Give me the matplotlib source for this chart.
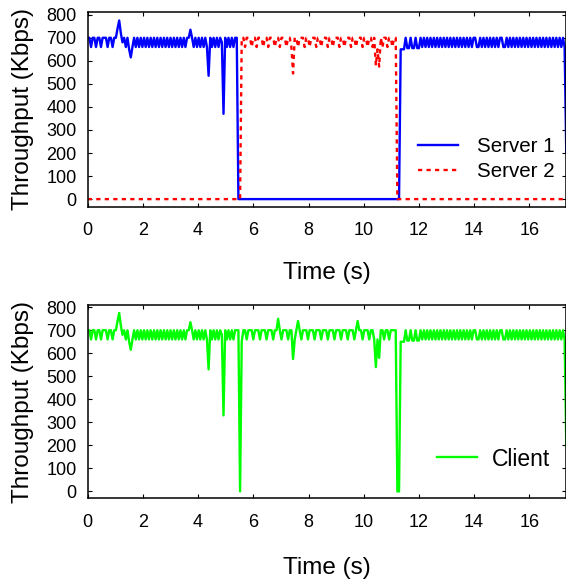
import numpy as np
import matplotlib
matplotlib.use("Agg")
import matplotlib.pyplot as plt

# sampled throughput (Kbps), one sample every 0.06 s
dt = 0.06

server1 = [
    700, 700, 660, 700, 700, 660, 700, 700, 660, 700,
    700, 700, 660, 700, 700, 660, 700, 700, 740, 775,
    720, 680, 700, 660, 700, 650, 615, 660, 700, 660,
    700, 660, 700, 660, 700, 660, 700, 660, 700, 660,
    700, 660, 700, 660, 700, 660, 700, 660, 700, 660,
    700, 660, 700, 660, 700, 660, 700, 660, 700, 660,
    700, 700, 735, 700, 660, 700, 660, 700, 660, 700,
    660, 700, 660, 535, 700, 660, 700, 660, 700, 660,
    700, 680, 370, 700, 660, 700, 660, 700, 660, 700,
    700, 0, 0, 0, 0, 0, 0, 0, 0, 0,
    0, 0, 0, 0, 0, 0, 0, 0, 0, 0,
    0, 0, 0, 0, 0, 0, 0, 0, 0, 0,
    0, 0, 0, 0, 0, 0, 0, 0, 0, 0,
    0, 0, 0, 0, 0, 0, 0, 0, 0, 0,
    0, 0, 0, 0, 0, 0, 0, 0, 0, 0,
    0, 0, 0, 0, 0, 0, 0, 0, 0, 0,
    0, 0, 0, 0, 0, 0, 0, 0, 0, 0,
    0, 0, 0, 0, 0, 0, 0, 0, 0, 0,
    0, 0, 0, 0, 0, 0, 0, 0, 0, 650,
    650, 650, 700, 655, 655, 700, 655, 655, 700, 655,
    655, 700, 660, 700, 660, 700, 660, 700, 660, 700,
    660, 700, 660, 700, 660, 700, 660, 700, 660, 700,
    660, 700, 660, 700, 660, 700, 660, 700, 660, 700,
    660, 700, 660, 700, 700, 660, 660, 700, 660, 700,
    660, 700, 660, 700, 660, 700, 660, 700, 660, 700,
    700, 660, 660, 700, 660, 700, 660, 700, 660, 700,
    660, 700, 660, 700, 660, 700, 660, 700, 660, 700,
    660, 700, 660, 700, 660, 700, 660, 700, 660, 700,
    660, 700, 660, 700, 660, 700, 660, 700, 660, 200,
]

server2 = [
    0, 0, 0, 0, 0, 0, 0, 0, 0, 0,
    0, 0, 0, 0, 0, 0, 0, 0, 0, 0,
    0, 0, 0, 0, 0, 0, 0, 0, 0, 0,
    0, 0, 0, 0, 0, 0, 0, 0, 0, 0,
    0, 0, 0, 0, 0, 0, 0, 0, 0, 0,
    0, 0, 0, 0, 0, 0, 0, 0, 0, 0,
    0, 0, 0, 0, 0, 0, 0, 0, 0, 0,
    0, 0, 0, 0, 0, 0, 0, 0, 0, 0,
    0, 0, 0, 0, 0, 0, 0, 0, 0, 0,
    0, 0, 0, 700, 700, 660, 700, 700, 700, 660,
    700, 700, 660, 700, 700, 700, 660, 700, 700, 660,
    700, 700, 700, 660, 700, 700, 660, 700, 700, 700,
    660, 700, 700, 660, 545, 700, 700, 660, 700, 700,
    700, 660, 700, 700, 660, 700, 700, 700, 660, 700,
    700, 660, 700, 700, 700, 660, 700, 700, 660, 700,
    700, 700, 660, 700, 700, 660, 700, 700, 700, 660,
    700, 700, 660, 700, 700, 700, 660, 700, 700, 660,
    700, 700, 660, 700, 580, 650, 575, 700, 660, 700,
    700, 660, 700, 700, 660, 700, 700, 0, 0, 0,
    0, 0, 0, 0, 0, 0, 0, 0, 0, 0,
    0, 0, 0, 0, 0, 0, 0, 0, 0, 0,
    0, 0, 0, 0, 0, 0, 0, 0, 0, 0,
    0, 0, 0, 0, 0, 0, 0, 0, 0, 0,
    0, 0, 0, 0, 0, 0, 0, 0, 0, 0,
    0, 0, 0, 0, 0, 0, 0, 0, 0, 0,
    0, 0, 0, 0, 0, 0, 0, 0, 0, 0,
    0, 0, 0, 0, 0, 0, 0, 0, 0, 0,
    0, 0, 0, 0, 0, 0, 0, 0, 0, 0,
    0, 0, 0, 0, 0, 0, 0, 0, 0, 0,
]

client = [
    700, 700, 660, 700, 700, 660, 700, 700, 660, 700,
    700, 700, 660, 700, 700, 660, 700, 700, 740, 775,
    720, 680, 700, 660, 700, 650, 615, 660, 700, 660,
    700, 660, 700, 660, 700, 660, 700, 660, 700, 660,
    700, 660, 700, 660, 700, 660, 700, 660, 700, 660,
    700, 660, 700, 660, 700, 660, 700, 660, 700, 660,
    700, 700, 735, 700, 660, 700, 660, 700, 660, 700,
    660, 700, 660, 530, 700, 660, 700, 660, 700, 660,
    700, 680, 330, 700, 660, 700, 660, 700, 660, 700,
    700, 700, 0, 650, 700, 700, 660, 700, 700, 700,
    660, 700, 700, 700, 660, 700, 700, 700, 660, 700,
    700, 700, 660, 700, 700, 750, 700, 660, 700, 700,
    700, 660, 700, 700, 575, 660, 700, 740, 700, 660,
    700, 700, 700, 660, 700, 700, 700, 660, 700, 700,
    700, 660, 700, 700, 700, 660, 700, 700, 700, 660,
    700, 700, 700, 660, 700, 700, 700, 660, 700, 700,
    700, 660, 700, 740, 700, 700, 660, 700, 700, 700,
    660, 700, 700, 660, 540, 660, 580, 700, 700, 660,
    700, 700, 660, 700, 700, 700, 700, 0, 0, 650,
    650, 650, 700, 655, 655, 700, 655, 655, 700, 655,
    655, 700, 660, 700, 660, 700, 660, 700, 660, 700,
    660, 700, 660, 700, 660, 700, 660, 700, 660, 700,
    660, 700, 660, 700, 660, 700, 660, 700, 660, 700,
    660, 700, 660, 700, 700, 660, 660, 700, 660, 700,
    660, 700, 660, 700, 660, 700, 660, 700, 660, 700,
    700, 660, 660, 700, 660, 700, 660, 700, 660, 700,
    660, 700, 660, 700, 660, 700, 660, 700, 660, 700,
    660, 700, 660, 700, 660, 700, 660, 700, 660, 700,
    660, 700, 660, 700, 660, 700, 660, 700, 660, 200,
]

t = np.arange(len(server1)) * dt

plt.rcParams["font.family"] = ["Liberation Sans", "DejaVu Sans"]

fig = plt.figure(figsize=(5.66, 5.81), dpi=100)
ax1 = fig.add_axes([0.155, 0.6442, 0.845, 0.3356])
ax2 = fig.add_axes([0.155, 0.1423, 0.845, 0.3333])

ax1.plot(t, server1, color="#0000ff", lw=1.7, label="Server 1")
ax1.plot(t, server2, color="#ff0000", lw=1.7, ls=(0, (1.8, 1.8)), label="Server 2")
ax2.plot(t, client, color="#00ff00", lw=1.7, label="Client")

ax1.set_ylim(-33, 813)
ax2.set_ylim(-30, 811)

for ax in (ax1, ax2):
    ax.set_xlim(0, 17.33)
    ax.set_xticks(range(0, 17, 2))
    ax.set_yticks(range(0, 801, 100))
    ax.tick_params(direction="in", top=True, right=True, length=3, width=0.8,
                   labelsize=13)
    ax.tick_params(axis="x", pad=11.3)
    ax.tick_params(axis="y", pad=8)
    for s in ax.spines.values():
        s.set_linewidth(1.1)
    ax.set_xlabel("Time (s)", fontsize=17.5)
    ax.set_ylabel("Throughput (Kbps)", fontsize=17.5)
    ax.yaxis.set_label_coords(-0.112, 0.5)

ax1.xaxis.set_label_coords(0.5, -0.285)
ax2.xaxis.set_label_coords(0.5, -0.302)

ax1.legend(loc="center left", bbox_to_anchor=(0.69, 0.243), frameon=False,
           fontsize=14.8, handlelength=1.95, handletextpad=0.93,
           labelspacing=0.3, borderpad=0, borderaxespad=0)
ax2.legend(loc="center left", bbox_to_anchor=(0.73, 0.203), frameon=False,
           fontsize=16.5, handlelength=1.75, handletextpad=0.655,
           borderpad=0, borderaxespad=0)

fig.savefig("out.png", dpi=100)
